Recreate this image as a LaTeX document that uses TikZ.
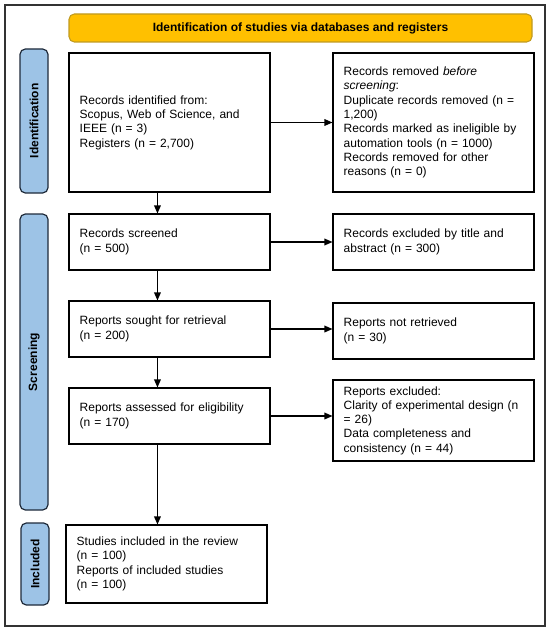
\documentclass[tikz,border=0pt]{standalone}
\usepackage{fontspec}
\setmainfont{Liberation Sans}
\usetikzlibrary{arrows.meta,calc}
\definecolor{hdrfill}{HTML}{FFC000}
\definecolor{hdrdraw}{HTML}{C09A20}
\definecolor{lblfill}{HTML}{9DC3E6}
\definecolor{lbldraw}{HTML}{1F2A3A}
\definecolor{framec}{HTML}{333333}
\tikzset{
  bx/.style={draw=black, line width=0.8pt, rectangle, inner xsep=8pt, inner ysep=0pt,
    minimum width=150.75pt, text width=134.75pt, align=left,
    font=\fontsize{9}{10.7}\selectfont},
  lbl/.style={draw=lbldraw, fill=lblfill, line width=0.9pt, rounded corners=4pt,
    rotate=90, minimum height=21pt, inner sep=0pt, font=\bfseries\fontsize{9}{11}\selectfont},
  arr/.style={line width=0.9pt, -{Triangle[length=6pt,width=5pt]}}
}
\begin{document}
\begin{tikzpicture}[x=0.75pt,y=-0.75pt]
\useasboundingbox (0,0) rectangle (550,631);
\draw[framec, line width=1.5pt] (5,5) rectangle (545,626);
\node[draw=hdrdraw, fill=hdrfill, line width=0.8pt, rounded corners=4pt, minimum width=347.25pt, minimum height=21pt, inner sep=0pt, font=\bfseries\fontsize{9}{11}\selectfont] (hdr) at (300.5,28) {Identification of studies via databases and registers};
\node[lbl, minimum width=108pt] (lid) at (34,121) {Identification};
\node[lbl, minimum width=222pt] (lsc) at (34,362) {Screening};
\node[lbl, minimum width=61.5pt] (lin) at (35,564) {Included};
\node[bx, minimum height=104.25pt] (b1) at (169.5,122.5) {Records identified from:\\Scopus, Web of Science, and\\IEEE (n = 3)\\Registers (n = 2,700)};
\node[bx, minimum height=104.25pt] (b2) at (433.5,122.5) {Records removed \textit{before}\\\textit{screening}:\\Duplicate records removed (n =\\1,200)\\Records marked as ineligible by\\automation tools (n = 1000)\\Records removed for other\\reasons (n = 0)};
\node[bx, minimum height=42pt] (b3) at (169.5,242) {Records screened\\(n = 500)};
\node[bx, minimum height=42pt] (b4) at (433.5,242) {Records excluded by title and\\abstract (n = 300)};
\node[bx, minimum height=42pt] (b5) at (169.5,329) {Reports sought for retrieval\\(n = 200)};
\node[bx, minimum height=42pt] (b6) at (433.5,331) {Reports not retrieved\\(n = 30)};
\node[bx, minimum height=42pt] (b7) at (169.5,416) {Reports assessed for eligibility\\(n = 170)};
\node[bx, minimum height=60.75pt] (b8) at (433.5,420.5) {Reports excluded:\\Clarity of experimental design (n\\= 26)\\Data completeness and\\consistency (n = 44)};
\node[bx, minimum height=58.5pt] (b9) at (166.5,564) {Studies included in the review\\(n = 100)\\Reports of included studies\\(n = 100)};
\draw[arr] (b1.east) -- (b1.east -| b2.west);
\draw[arr] (b3.east) -- (b3.east -| b4.west);
\draw[arr] (b5.east) -- (b5.east -| b6.west);
\draw[arr] (b7.east) -- (b7.east -| b8.west);
\draw[arr] ([xshift=66.75pt]b1.south west) -- ([xshift=66.75pt]b3.north west);
\draw[arr] ([xshift=66.75pt]b3.south west) -- ([xshift=66.75pt]b5.north west);
\draw[arr] ([xshift=66.75pt]b5.south west) -- ([xshift=66.75pt]b7.north west);
\draw[arr] ([xshift=66.75pt]b7.south west) -- ([xshift=66.75pt]b7.south west |- b9.north);
\end{tikzpicture}
\end{document}
